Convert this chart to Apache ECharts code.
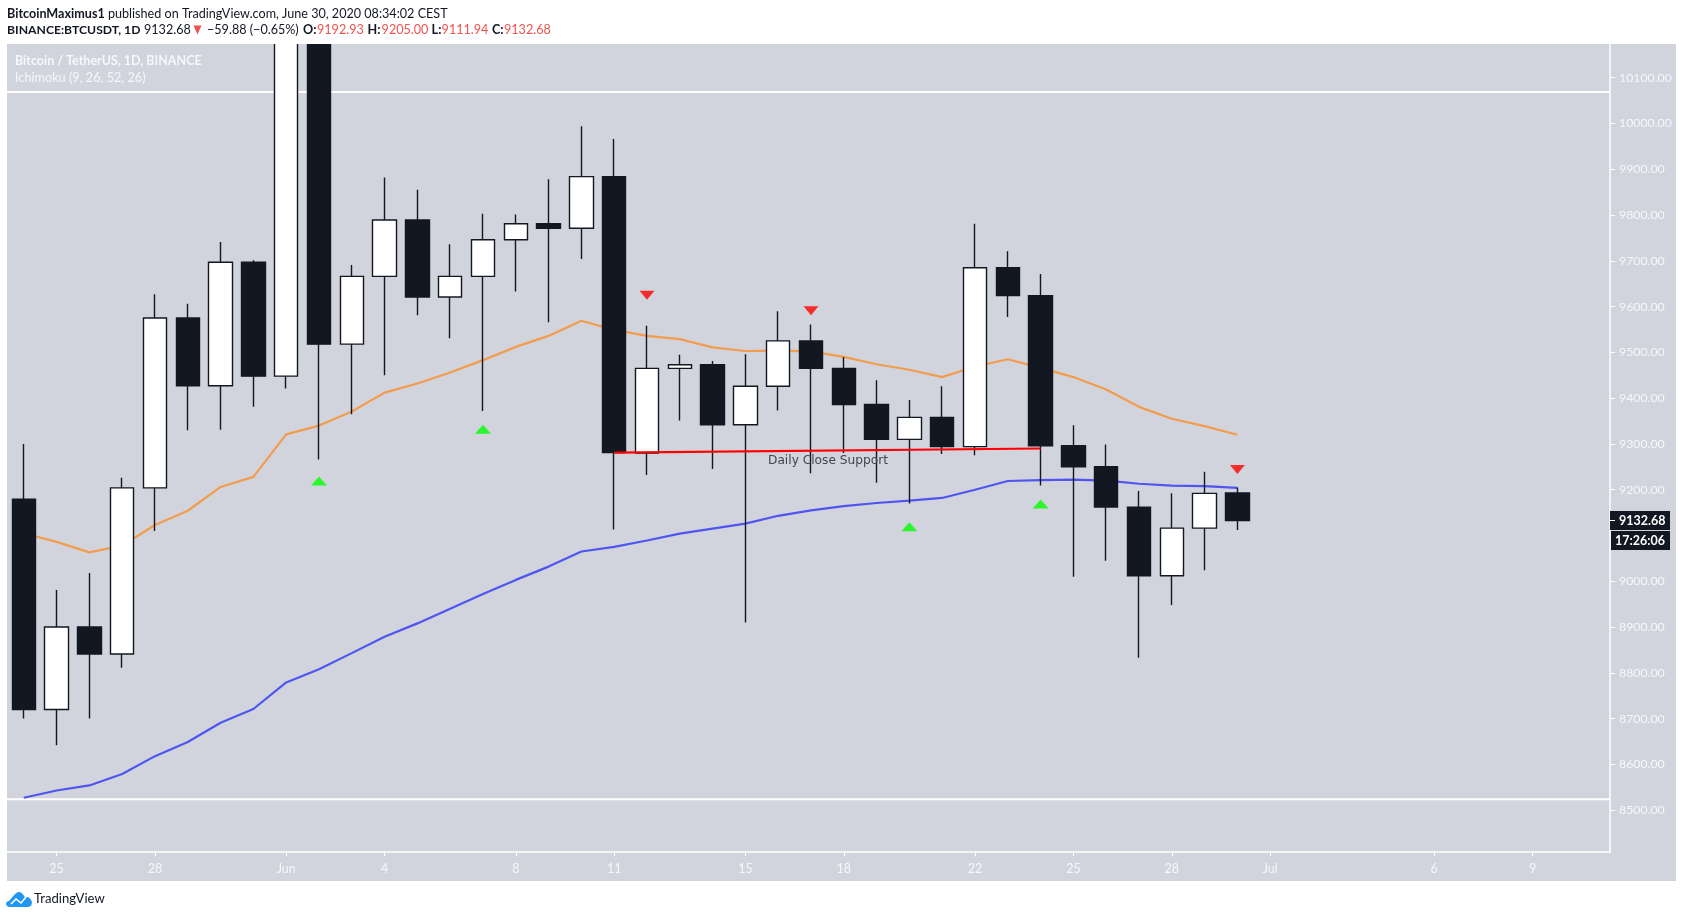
<!DOCTYPE html>
<html>
<head>
<meta charset="utf-8">
<title>BTCUSDT 1D</title>
<script src="https://cdn.jsdelivr.net/npm/echarts@6/dist/echarts.min.js"></script>
<style>
  html, body { margin: 0; padding: 0; background: #fff; }
  #chart { width: 1683px; height: 918px; }
</style>
</head>
<body>
<div id="chart"></div>
<script>
// candles, May 24 - Jun 30 2020, one entry per day
const opens  = [9179, 8720, 8900, 8841, 9204, 9575, 9427, 9697, 9448, 10200, 9518, 9666, 9789, 9621, 9666, 9746, 9781, 9771, 9884, 9280, 9465, 9473, 9342, 9426, 9525, 9465, 9386, 9310, 9358, 9294, 9685, 9624, 9296, 9250, 9162, 9012, 9116, 9192.93];
const closes = [8720, 8900, 8841, 9204, 9575, 9427, 9697, 9448, 10200, 9518, 9666, 9789, 9621, 9666, 9746, 9781, 9771, 9884, 9281, 9465, 9473, 9342, 9426, 9525, 9465, 9386, 9310, 9358, 9294, 9685, 9624, 9296, 9250, 9162, 9012, 9116, 9192, 9132.68];
const lows   = [8700, 8642, 8700, 8811, 9110, 9330, 9331, 9381, 9421, 9266, 9365, 9450, 9581, 9531, 9372, 9633, 9566, 9704, 9113, 9232, 9351, 9245, 8910, 9373, 9236, 9280, 9215, 9170, 9278, 9275, 9577, 9209, 9010, 9045, 8833, 8948, 9024, 9111.94];
const highs  = [9300, 8981, 9018, 9226, 9627, 9606, 9741, 9701, 10380, 10228, 9691, 9882, 9855, 9736, 9803, 9801, 9878, 9994, 9966, 9558, 9495, 9481, 9496, 9590, 9561, 9490, 9439, 9396, 9426, 9781, 9721, 9671, 9341, 9299, 9197, 9192, 9239, 9205];

// ichimoku lines
const orangeLine = [9105, 9086, 9063, 9078, 9123, 9154, 9206, 9228, 9321, 9340, 9371, 9412, 9432, 9456, 9483, 9512, 9536, 9569, 9549, 9536, 9529, 9511, 9503, 9504, 9502, 9490, 9474, 9462, 9446, 9469, 9485, 9466, 9446, 9419, 9381, 9355, 9339, 9320];
const blueLine   = [8527, 8543, 8554, 8579, 8618, 8649, 8691, 8721, 8779, 8808, 8843, 8879, 8908, 8940, 8972, 9003, 9032, 9065, 9075, 9089, 9104, 9115, 9126, 9143, 9155, 9164, 9171, 9176, 9182, 9200, 9219, 9221, 9222, 9220, 9213, 9209, 9208, 9204];

// drawn on top of the candles
const upMarkers   = [[9, 9219], [14, 9332], [27, 9119], [31, 9169]];
const downMarkers = [[19, 9625], [24, 9591], [37, 9244]];
const supportLine = [[18, 9281], [31, 9290]];
const whiteLevels = [10069, 8524];

// axes
const yTicks = [8500, 8600, 8700, 8800, 8900, 9000, 9100, 9200, 9300, 9400, 9500, 9600, 9700, 9800, 9900, 10000, 10100];
const xTicks = [1, 4, 8, 11, 15, 18, 22, 25, 29, 32, 35, 38, 43, 46];
const xLabels = ['25', '28', 'Jun', '4', '8', '11', '15', '18', '22', '25', '28', 'Jul', '6', '9'];
const xMin = -0.512, xMax = 48.36;
const yMin = 8408.6, yMax = 10173.6;

// header values
const ohlcLabels = ['O:', 'H:', 'L:', 'C:'];
const ohlcValues = ['9192.93', '9205.00', '9111.94', '9132.68'];
const ohlcX = [303, 367.6, 431.6, 492];
const ohlcGap = [14, 14, 10, 12];

const DARK = '#131722';
const RED = '#ef5350';
const AXIS_TEXT = '#f6f7f9';
const FONT = 'Lato, sans-serif';

const myChart = echarts.init(document.getElementById('chart'));

const headerText = (text, x, font, fill) => ({
  type: 'text', z: 21, x, y: 30,
  style: { text, font: font + ' ' + FONT, fill, verticalAlign: 'middle' },
});

const levelSeries = whiteLevels.map(level => ({
  type: 'line',
  data: [[xMin, level], [xMax, level]],
  symbol: 'none',
  silent: true,
  z: 1,
  lineStyle: { color: '#fff', width: 2 },
}));

myChart.setOption({
  animation: false,
  grid: { left: 7, top: 44, width: 1603, height: 808 },
  graphic: [
    { type: 'rect', z: -10, shape: { x: 7, y: 44, width: 1669, height: 837 }, style: { fill: '#d1d4dc' } },
    // candlestick clip only drops whole candles, so the header strip masks what pokes out on top
    { type: 'rect', z: 20, shape: { x: 0, y: 0, width: 1683, height: 44 }, style: { fill: '#fff' } },
    { type: 'text', z: 21, x: 7, y: 14, style: {
      text: '{b|BitcoinMaximus1} published on TradingView.com, June 30, 2020 08:34:02 CEST',
      font: '12.6px ' + FONT, fill: DARK, verticalAlign: 'middle',
      rich: { b: { font: 'bold 12.6px ' + FONT, fill: DARK } },
    } },
    headerText('BINANCE:BTCUSDT, 1D', 7, 'bold 12.2px', DARK),
    headerText('9132.68', 144, '12.6px', DARK),
    { type: 'polygon', z: 21, shape: { points: [[193.5, 25.5], [201.5, 25.5], [197.5, 34.5]] }, style: { fill: RED } },
    headerText('−59.88 (−0.65%)', 207, '12.6px', DARK),
    ...ohlcLabels.map((label, i) => headerText(label, ohlcX[i], 'bold 12.6px', DARK)),
    ...ohlcValues.map((value, i) => headerText(value, ohlcX[i] + ohlcGap[i], '12.6px', RED)),
    { type: 'text', z: 10, x: 15, y: 60.5, style: { text: 'Bitcoin / TetherUS, 1D, BINANCE', font: 'bold 12.5px ' + FONT, fill: AXIS_TEXT, verticalAlign: 'middle' } },
    { type: 'text', z: 10, x: 15, y: 78, style: { text: 'Ichimoku (9, 26, 52, 26)', font: '12.7px ' + FONT, fill: AXIS_TEXT, verticalAlign: 'middle' } },
    { type: 'text', z: 10, x: 768, y: 460.5, style: { text: 'Daily Close Support', font: '12.2px "DejaVu Sans", sans-serif', fill: '#434651', verticalAlign: 'middle' } },
    // last price and countdown boxes
    { type: 'rect', z: 10, shape: { x: 1610, y: 511, width: 60, height: 19 }, style: { fill: DARK } },
    { type: 'rect', z: 10, shape: { x: 1611, y: 531, width: 59, height: 19 }, style: { fill: DARK } },
    { type: 'rect', z: 11, shape: { x: 1610, y: 520, width: 5, height: 1 }, style: { fill: '#fff' } },
    { type: 'text', z: 11, x: 1619, y: 520.5, style: { text: '9132.68', font: 'bold 12.5px ' + FONT, fill: '#fff', verticalAlign: 'middle' } },
    { type: 'text', z: 11, x: 1615, y: 540.5, style: { text: '17:26:06', font: 'bold 12.5px ' + FONT, fill: '#fff', verticalAlign: 'middle' } },
    // TradingView logo
    { type: 'polygon', z: 10, shape: {
      points: [[9, 907], [7, 906], [6, 904], [6.5, 902], [9.5, 900.5], [15, 894], [17, 892.5], [19, 892], [21, 892.5], [23, 894.5], [25, 897], [28, 897], [30.5, 899], [32, 902], [31.5, 905], [29, 907]],
    }, style: { fill: '#2196f3' } },
    { type: 'polyline', z: 11, shape: { points: [[11, 904], [16, 899], [21, 903], [26, 897]] }, style: { stroke: '#fff', lineWidth: 1.6, fill: null } },
    { type: 'text', z: 10, x: 34, y: 899, style: { text: 'TradingView', font: '13.1px ' + FONT, fill: DARK, verticalAlign: 'middle' } },
  ],
  xAxis: {
    type: 'value',
    min: xMin,
    max: xMax,
    splitLine: { show: false },
    axisLine: { onZero: false, lineStyle: { color: '#fff', width: 1.5 } },
    axisTick: { customValues: xTicks, length: 4, lineStyle: { color: '#fff' } },
    axisLabel: {
      customValues: xTicks,
      formatter: v => xLabels[xTicks.indexOf(v)],
      color: AXIS_TEXT,
      fontFamily: FONT,
      fontSize: 12.5,
      margin: 10,
    },
  },
  yAxis: {
    type: 'value',
    position: 'right',
    min: yMin,
    max: yMax,
    splitLine: { show: false },
    axisLine: { show: true, onZero: false, lineStyle: { color: '#fff', width: 1.5 } },
    axisTick: { show: true, customValues: yTicks, length: 5, lineStyle: { color: '#fff' } },
    axisLabel: {
      customValues: yTicks,
      formatter: v => v.toFixed(2),
      color: AXIS_TEXT,
      fontFamily: FONT,
      fontSize: 12.3,
      margin: 9,
    },
  },
  series: [
    ...levelSeries,
    {
      type: 'line',
      data: orangeLine.map((v, i) => [i, v]),
      symbol: 'none',
      z: 1,
      lineStyle: { color: '#f39c4d', width: 2.2 },
    },
    {
      type: 'line',
      data: blueLine.map((v, i) => [i, v]),
      symbol: 'none',
      z: 1,
      lineStyle: { color: '#4f55f0', width: 2.2 },
    },
    {
      type: 'candlestick',
      data: opens.map((o, i) => [i, o, closes[i], lows[i], highs[i]]),
      barWidth: 24,
      z: 2,
      itemStyle: {
        color: '#fff',
        color0: DARK,
        borderColor: DARK,
        borderColor0: DARK,
        borderWidth: 1.4,
      },
    },
    {
      type: 'line',
      data: supportLine,
      symbol: 'none',
      z: 3,
      lineStyle: { color: '#ff0000', width: 2.2 },
    },
    {
      type: 'scatter',
      data: upMarkers,
      symbol: 'triangle',
      symbolSize: [16, 9],
      z: 3,
      itemStyle: { color: '#00ff00' },
    },
    {
      type: 'scatter',
      data: downMarkers,
      symbol: 'triangle',
      symbolSize: [15, 9],
      symbolRotate: 180,
      z: 3,
      itemStyle: { color: '#ff0000' },
    },
  ],
});
</script>
</body>
</html>
